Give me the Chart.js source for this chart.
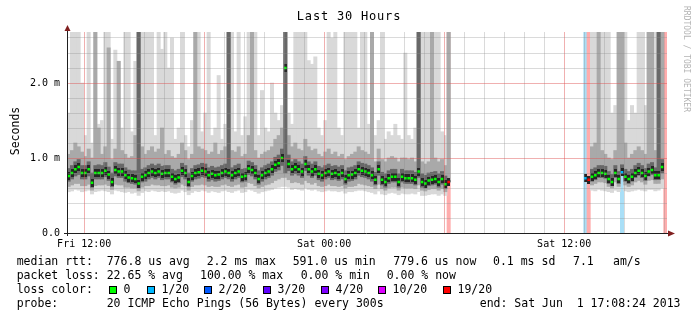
<!DOCTYPE html>
<html><head><meta charset="utf-8">
<script src="https://cdn.jsdelivr.net/npm/chart.js@4.4.0/dist/chart.umd.min.js"></script>
<style>html,body{margin:0;padding:0;background:#fff}canvas{display:block}</style>
</head><body>
<canvas id="c" width="697" height="321"></canvas>
<script>
// ---- time base -------------------------------------------------------
const startHour = 11 + 8.4 / 60;   // Fri 11:08:24 (hours since Fri 00:00)
const spanHours = 30;
const stepHours = 1 / 6;           // one sample per 10 minutes
const outageSamples = 40;          // samples with no data between the two segments

// ---- segment A (before the outage), values in ms ---------------------
const medianA = [
 0.76,0.80,0.85,0.88,0.80,0.80,0.85,0.67,0.80,0.80,
 0.80,0.83,0.78,0.68,0.84,0.82,0.82,0.77,0.74,0.73,
 0.72,0.66,0.75,0.77,0.80,0.82,0.80,0.82,0.79,0.80,
 0.80,0.75,0.72,0.74,0.83,0.80,0.68,0.76,0.80,0.81,
 0.83,0.82,0.77,0.79,0.77,0.78,0.80,0.82,0.80,0.77,
 0.80,0.82,0.75,0.76,0.86,0.84,0.80,0.72,0.77,0.80,
 0.82,0.85,0.91,0.93,1.00,2.20,0.92,0.85,0.88,0.85,
 0.82,0.92,0.85,0.82,0.85,0.79,0.77,0.80,0.82,0.79,
 0.80,0.78,0.80,0.72,0.77,0.78,0.80,0.85,0.83,0.82,
 0.80,0.77,0.71,0.85,0.71,0.68,0.73,0.75,0.75,0.68,
 0.75,0.73,0.73,0.73,0.71,0.82,0.68,0.66,0.70,0.71,
 0.72,0.68,0.72,0.65,0.68];
const pingMinA = [
 0.55,0.56,0.58,0.57,0.55,0.56,0.57,0.52,0.55,0.56,
 0.57,0.56,0.55,0.52,0.57,0.56,0.55,0.54,0.55,0.53,
 0.54,0.50,0.54,0.56,0.55,0.57,0.56,0.55,0.56,0.55,
 0.56,0.54,0.53,0.54,0.57,0.55,0.51,0.54,0.56,0.55,
 0.57,0.56,0.54,0.56,0.55,0.54,0.56,0.57,0.55,0.54,
 0.56,0.57,0.54,0.55,0.58,0.57,0.55,0.53,0.55,0.56,
 0.57,0.58,0.60,0.61,0.62,0.62,0.61,0.58,0.59,0.58,
 0.57,0.60,0.58,0.57,0.58,0.56,0.55,0.56,0.57,0.56,
 0.56,0.55,0.56,0.53,0.55,0.55,0.56,0.57,0.57,0.56,
 0.55,0.54,0.52,0.56,0.52,0.51,0.53,0.54,0.53,0.51,
 0.53,0.52,0.52,0.53,0.52,0.55,0.50,0.50,0.51,0.52,
 0.52,0.50,0.52,0.50,0.68];
const smokeLowA = [
 0.62,0.64,0.66,0.66,0.63,0.63,0.65,0.57,0.63,0.64,
 0.64,0.65,0.63,0.58,0.65,0.64,0.64,0.61,0.61,0.60,
 0.60,0.56,0.61,0.63,0.63,0.65,0.64,0.64,0.63,0.63,
 0.64,0.61,0.60,0.61,0.65,0.63,0.57,0.62,0.64,0.64,
 0.65,0.64,0.62,0.63,0.62,0.62,0.64,0.65,0.63,0.62,
 0.64,0.65,0.61,0.62,0.67,0.66,0.63,0.60,0.62,0.64,
 0.65,0.67,0.70,0.72,0.74,0.74,0.71,0.67,0.68,0.67,
 0.65,0.70,0.67,0.65,0.67,0.63,0.62,0.63,0.65,0.63,
 0.63,0.62,0.63,0.60,0.62,0.62,0.63,0.66,0.65,0.64,
 0.63,0.62,0.59,0.65,0.59,0.57,0.60,0.61,0.61,0.57,
 0.61,0.60,0.60,0.60,0.59,0.64,0.57,0.56,0.58,0.59,
 0.59,0.57,0.59,0.55,0.68];
const coreLowA = [
 0.69,0.72,0.76,0.78,0.72,0.72,0.76,0.61,0.72,0.72,
 0.72,0.75,0.70,0.62,0.76,0.74,0.74,0.69,0.67,0.66,
 0.65,0.60,0.68,0.69,0.72,0.74,0.72,0.74,0.71,0.72,
 0.72,0.68,0.65,0.67,0.75,0.72,0.62,0.69,0.72,0.73,
 0.75,0.74,0.69,0.71,0.69,0.70,0.72,0.74,0.72,0.69,
 0.72,0.74,0.68,0.69,0.78,0.76,0.72,0.65,0.69,0.72,
 0.74,0.77,0.82,0.84,0.90,0.80,0.83,0.77,0.79,0.77,
 0.74,0.83,0.77,0.74,0.77,0.71,0.69,0.72,0.74,0.71,
 0.72,0.70,0.72,0.65,0.69,0.70,0.72,0.77,0.75,0.74,
 0.72,0.69,0.64,0.77,0.64,0.61,0.66,0.68,0.68,0.61,
 0.68,0.66,0.66,0.66,0.64,0.74,0.61,0.60,0.63,0.64,
 0.65,0.61,0.65,0.59,0.68];
const coreHighA = [
 0.86,0.90,0.95,0.98,0.90,0.90,0.95,0.80,0.90,0.91,
 0.90,0.94,0.88,0.80,0.94,0.92,0.92,0.87,0.84,0.83,
 0.83,2.70,0.85,0.87,0.90,0.92,0.90,0.92,0.89,0.90,
 0.90,0.85,0.83,0.85,0.93,0.90,0.80,0.86,0.90,0.91,
 0.93,0.92,0.87,0.89,0.87,0.88,0.90,0.92,2.70,0.87,
 0.90,0.92,0.85,0.86,0.96,0.94,0.90,0.83,0.87,0.90,
 0.92,0.95,1.01,1.04,1.12,2.70,1.04,0.95,0.98,0.95,
 0.92,1.02,0.95,0.92,0.95,0.89,0.87,0.90,0.92,0.89,
 0.90,0.88,0.90,0.83,0.87,0.88,0.90,0.95,0.93,0.92,
 0.90,0.87,0.81,0.95,0.81,0.79,0.83,0.85,0.85,0.79,
 0.85,0.83,0.83,0.83,0.81,2.70,0.79,0.77,0.80,0.81,
 0.82,0.79,0.82,0.76,0.70];
const smokeHighA = [
 1.05,1.10,1.20,1.15,1.08,1.02,1.12,1.00,2.70,1.40,
 1.05,1.15,2.47,0.98,1.12,2.29,1.10,1.05,1.00,1.02,
 1.30,2.70,1.15,1.05,1.10,1.15,1.08,1.12,1.40,1.05,
 1.10,1.02,1.00,1.05,1.20,1.10,0.98,1.05,2.70,1.15,
 1.12,1.10,1.05,1.08,1.20,1.05,1.10,1.15,2.70,1.10,
 1.08,1.15,1.02,1.05,1.30,2.70,1.10,1.00,1.05,1.08,
 1.10,1.15,1.25,1.30,1.40,2.70,1.30,1.15,1.20,1.12,
 1.10,1.25,1.15,1.10,1.12,1.05,1.02,1.08,1.12,1.05,
 1.08,1.02,1.05,0.98,1.02,1.05,1.08,1.15,1.10,1.08,
 1.05,2.70,0.95,1.12,0.98,0.95,1.00,1.02,1.00,0.95,
 1.00,1.00,0.98,1.00,0.95,2.70,0.95,0.92,0.95,2.70,
 1.00,0.95,0.98,0.90,2.70];
const pingMaxA = [
 1.60,2.70,2.70,2.70,2.00,1.30,2.70,1.20,2.70,1.45,
 1.50,2.70,2.70,1.25,2.44,2.29,1.40,2.70,2.70,1.35,
 2.29,2.70,2.70,2.70,2.70,2.70,1.30,2.70,2.45,2.70,
 2.20,2.60,1.25,1.40,2.70,1.30,1.15,1.50,2.70,2.70,
 1.35,1.60,2.70,1.30,1.40,2.10,1.25,1.45,2.70,2.70,
 1.35,2.70,1.30,1.55,2.70,2.70,2.70,1.30,1.90,1.40,
 1.35,2.00,1.60,1.50,1.70,2.70,1.60,1.45,2.70,2.70,
 2.70,2.70,2.30,2.25,2.35,1.40,1.30,1.50,2.70,2.60,
 2.70,1.40,1.30,2.70,2.70,2.70,2.70,1.40,2.70,2.70,
 1.45,2.70,1.30,1.50,2.70,1.25,1.35,1.30,1.45,1.30,
 1.25,2.40,1.30,1.25,1.40,2.70,2.70,2.70,2.70,2.70,
 2.70,2.70,1.35,1.30,2.70];
const lossA = [
 0,0,0,0,0,0,0,0,0,0, 0,0,0,0,0,0,0,0,0,0, 0,0,0,0,0,0,0,0,0,0,
 0,0,0,0,0,0,0,0,0,0, 0,0,0,0,0,0,0,0,0,0, 0,0,0,0,0,0,0,0,0,0,
 0,0,0,0,0,0,0,0,0,0, 0,0,0,0,0,0,0,0,0,0, 0,0,0,0,0,0,0,0,0,0,
 0,0,0,0,0,0,0,0,0,0, 0,0,0,0,0,0,0,0,0,0, 0,0,0,0,19];

// ---- segment B (after the outage) ------------------------------------
const medianB    = [0.73,0.71,0.75,0.77,0.80,0.80,0.79,0.72,0.68,0.80,0.72,0.81,0.75,0.72,0.75,0.80,0.83,0.80,0.76,0.82,0.84,0.77,0.77,0.88,null];
const pingMinB   = [null,null,0.57,0.56,0.58,0.57,0.56,0.55,0.54,0.57,0.55,0.81,0.56,0.55,0.56,0.57,0.58,0.57,0.56,0.58,0.58,0.56,0.57,0.60,null];
const smokeLowB  = [null,null,0.64,0.66,0.68,0.68,0.67,0.62,0.60,0.68,0.62,0.81,0.64,0.62,0.64,0.68,0.70,0.68,0.65,0.70,0.71,0.66,0.66,0.72,null];
const coreLowB   = [null,null,0.69,0.71,0.74,0.74,0.73,0.66,0.63,0.74,0.66,0.81,0.69,0.66,0.69,0.74,0.77,0.74,0.70,0.76,0.78,0.71,0.71,0.80,null];
const coreHighB  = [null,null,0.85,0.87,0.90,0.90,0.89,0.82,0.78,0.90,0.82,0.91,0.85,0.82,0.85,0.90,0.93,0.90,0.86,0.92,0.94,0.87,2.70,0.98,null];
const smokeHighB = [null,null,1.15,1.20,2.70,1.10,1.05,1.00,0.98,1.10,2.70,2.70,1.20,1.00,1.05,1.10,1.15,1.10,1.05,2.70,2.70,1.10,2.70,2.70,null];
const pingMaxB   = [null,null,2.70,2.70,2.70,2.70,2.70,2.70,1.60,1.70,2.70,2.70,2.70,1.50,1.70,1.60,2.70,2.70,1.70,2.70,2.70,2.70,2.70,2.70,null];
const lossB      = [1,19,0,0,0,0,0,0,0,0,0,1,0,0,0,0,0,0,0,0,0,0,0,0,19];

// ---- axes / legend text ---------------------------------------------
const gridHours   = [12,13,14,15,16,17,18,19,20,21,22,23,24,25,26,27,28,29,30,31,32,33,34,35,36,37,38,39,40,41];
const gridValues  = [0.2,0.4,0.6,0.8,1.0,1.2,1.4,1.6,1.8,2.0,2.2,2.4,2.6];
const xTickHours  = [12, 24, 36];
const xTickLabels = ['Fri 12:00', 'Sat 00:00', 'Sat 12:00'];
const yTickValues = [0, 1, 2];
const yTickLabels = ['0.0', '1.0 m', '2.0 m'];
const lossLevels  = [0, 1, 2, 3, 4, 10, 19];
const lossLabels  = ['0', '1/20', '2/20', '3/20', '4/20', '10/20', '19/20'];
const lossColors  = ['#00ff00', '#00b8ff', '#0059ff', '#5e00ff', '#7e00ff', '#dd00ff', '#ff0000'];
const lossBgColors= ['#ffffff', '#a9dff7', '#a9c2ff', '#c6a9ff', '#d2a9ff', '#f0a9ff', '#ffadad'];
const titleText   = 'Last 30 Hours';
const yTitle      = 'Seconds';
const watermark   = 'RRDTOOL / TOBI OETIKER';
const rttLine     = ['median rtt:', '776.8 us avg', '2.2 ms max', '591.0 us min', '779.6 us now', '0.1 ms sd', '7.1', 'am/s'];
const lossLine    = ['packet loss:', '22.65 % avg', '100.00 % max', '0.00 % min', '0.00 % now'];
const colorLine   = 'loss color:';
const probeLine   = ['probe:', '20 ICMP Echo Pings (56 Bytes) every 300s'];
const endLine     = 'end: Sat Jun  1 17:08:24 2013';

// ---- build tables -----------------------------------------------------
const gapNulls = new Array(outageSamples).fill(null);
const join = (a, b) => a.concat(gapNulls, b);
const median = join(medianA, medianB);
const pMin = join(pingMinA, pingMinB), sLow = join(smokeLowA, smokeLowB), cLow = join(coreLowA, coreLowB);
const cHigh = join(coreHighA, coreHighB), sHigh = join(smokeHighA, smokeHighB), pMax = join(pingMaxA, pingMaxB);
const loss = join(lossA, lossB).map(v => v == null ? 0 : v);
const N = median.length;
const xAt = Array.from({length: N}, (_, i) => startHour + (i + 0.5) * stepHours);
const lossIdx = n => { let k = 0; lossLevels.forEach((l, j) => { if (n >= l) k = j; }); return k; };
const band = (lo, hi) => xAt.map((x, i) => ({x, y: (lo[i] == null || hi[i] == null) ? null : [lo[i], hi[i]]}));

// dark smoke core drawn around each median point (marker style only)
const coreMark = document.createElement('canvas');
coreMark.width = 3; coreMark.height = 8;
(function () { const g = coreMark.getContext('2d'); g.fillStyle = '#262626'; g.fillRect(0, 0, 3, 8); })();

const barBase = {type: 'bar', grouped: false, borderWidth: 0, barPercentage: 1, categoryPercentage: 1, clip: 0};
const medianPts = xAt.map((x, i) => ({x, y: median[i]}));
const datasets = [
  Object.assign({}, barBase, {order: 10, data: xAt.map((x, i) => ({x, y: loss[i] > 0 ? [0, 2.7] : null})),
     backgroundColor: c => lossBgColors[lossIdx(loss[c.dataIndex] || 0)]}),
  Object.assign({}, barBase, {order: 9, data: band(pMin, pMax), backgroundColor: '#d9d9d9'}),
  Object.assign({}, barBase, {order: 8, data: band(sLow, sHigh), backgroundColor: '#a9a9a9'}),
  Object.assign({}, barBase, {order: 7, data: band(cLow, cHigh), backgroundColor: '#686868'}),
  {type: 'line', order: 2, showLine: false, clip: 0, data: medianPts,
   pointStyle: coreMark, pointRadius: 2, pointHoverRadius: 2, pointBorderWidth: 0},
  {type: 'line', order: 1, showLine: false, clip: 0, data: medianPts,
   pointStyle: 'rect', pointRadius: 1.8, pointBorderWidth: 0, pointHoverRadius: 1.8,
   pointBackgroundColor: c => lossColors[lossIdx(loss[c.dataIndex] || 0)]}
];

const MONO = '"DejaVu Sans Mono", monospace';
const deco = {
  id: 'deco',
  afterDraw(chart) {
    const ctx = chart.ctx, xs = chart.scales.x, ys = chart.scales.y, ca = chart.chartArea;
    ctx.save();
    // axes
    ctx.strokeStyle = '#1f1f1f'; ctx.lineWidth = 1;
    ctx.beginPath();
    ctx.moveTo(ca.left - 3, Math.round(ca.bottom) + 0.5); ctx.lineTo(ca.right + 2, Math.round(ca.bottom) + 0.5);
    ctx.moveTo(Math.round(ca.left) + 0.5, ca.bottom + 3); ctx.lineTo(Math.round(ca.left) + 0.5, ca.top - 1);
    ctx.stroke();
    ctx.fillStyle = '#801f1f';
    ctx.beginPath();
    ctx.moveTo(ca.right + 1, ca.bottom - 2.5); ctx.lineTo(ca.right + 8, ca.bottom + 0.5); ctx.lineTo(ca.right + 1, ca.bottom + 3.5);
    ctx.closePath(); ctx.fill();
    ctx.beginPath();
    ctx.moveTo(ca.left - 2.5, ca.top - 1); ctx.lineTo(ca.left + 0.5, ca.top - 7); ctx.lineTo(ca.left + 3.5, ca.top - 1);
    ctx.closePath(); ctx.fill();

    ctx.fillStyle = '#000';
    ctx.textBaseline = 'alphabetic';
    // tick labels
    ctx.font = '10px ' + MONO;
    ctx.textAlign = 'center';
    xTickHours.forEach((h, k) => ctx.fillText(xTickLabels[k], xs.getPixelForValue(h), ca.bottom + 14));
    ctx.textAlign = 'right'; ctx.textBaseline = 'middle';
    yTickValues.forEach((v, k) => ctx.fillText(yTickLabels[k], ca.left - 7, ys.getPixelForValue(v) + 0.5));
    // title
    ctx.textBaseline = 'alphabetic'; ctx.textAlign = 'center';
    ctx.font = '12px ' + MONO;
    try { ctx.letterSpacing = '0.8px'; } catch (e) {}
    ctx.fillText(titleText, 349, 20);
    try { ctx.letterSpacing = '0px'; } catch (e) {}
    // y title
    ctx.save();
    ctx.translate(19, 131); ctx.rotate(-Math.PI / 2);
    ctx.font = '11.5px ' + MONO; ctx.textAlign = 'center';
    ctx.fillText(yTitle, 0, 0);
    ctx.restore();
    // watermark
    ctx.save();
    ctx.translate(684, 6); ctx.rotate(Math.PI / 2);
    ctx.font = '8px ' + MONO; ctx.textAlign = 'left'; ctx.fillStyle = '#b4b4b4';
    ctx.fillText(watermark, 0, 0);
    ctx.restore();
    // legend
    ctx.font = '11.5px ' + MONO; ctx.textAlign = 'left'; ctx.fillStyle = '#000';
    const rttX = [16.7, 106.7, 206.7, 292.7, 393.3, 493, 573, 613];
    rttLine.forEach((s, k) => ctx.fillText(s, rttX[k], 265.3));
    const lossX = [16.7, 106.7, 200, 300.7, 386.7];
    lossLine.forEach((s, k) => ctx.fillText(s, lossX[k], 279));
    ctx.fillText(colorLine, 16.7, 292.7);
    const boxX = [109, 147, 204, 263, 321, 378, 443];
    lossLabels.forEach((s, k) => {
      ctx.fillStyle = lossColors[k]; ctx.fillRect(boxX[k], 286, 8, 8);
      ctx.strokeStyle = '#000'; ctx.strokeRect(boxX[k] + 0.5, 286.5, 7, 7);
      ctx.fillStyle = '#000'; ctx.fillText(s, boxX[k] + 14.5, 292.7);
    });
    ctx.fillText(probeLine[0], 16.7, 306.7);
    ctx.fillText(probeLine[1], 106.7, 306.7);
    ctx.textAlign = 'right';
    ctx.fillText(endLine, 680.5, 306.7);
    ctx.restore();
  }
};

const minorGrid = 'rgba(140,140,140,0.32)', majorGrid = 'rgba(222,79,79,0.45)';
new Chart(document.getElementById('c'), {
  type: 'bar',
  data: {datasets},
  options: {
    responsive: false, animation: false, devicePixelRatio: 1,
    layout: {padding: {left: 67, right: 30, top: 32, bottom: 88}},
    plugins: {legend: {display: false}, tooltip: {enabled: false}, title: {display: false}},
    events: [],
    scales: {
      x: {type: 'linear', min: startHour, max: startHour + spanHours, offset: false,
          grid: {z: 1, offset: false, drawTicks: false, lineWidth: 1,
                 color: c => (c.tick && c.tick.value % 6 === 0) ? majorGrid : minorGrid},
          border: {display: false}, ticks: {display: false},
          afterBuildTicks: ax => { ax.ticks = gridHours.map(v => ({value: v})); }},
      y: {type: 'linear', min: 0, max: 2.68,
          grid: {z: 1, drawTicks: false, lineWidth: 1,
                 color: c => (c.tick && Math.abs(c.tick.value - Math.round(c.tick.value)) < 1e-6) ? majorGrid : minorGrid},
          border: {display: false}, ticks: {display: false},
          afterBuildTicks: ax => { ax.ticks = gridValues.map(v => ({value: v})); }}
    }
  },
  plugins: [deco]
});
</script>
</body></html>
